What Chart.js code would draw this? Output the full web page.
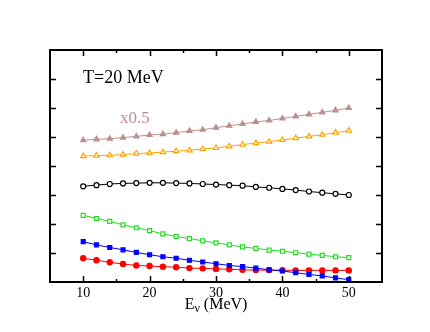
<!DOCTYPE html>
<html>
<head>
<meta charset="utf-8">
<script src="https://cdn.jsdelivr.net/npm/chart.js@4.4.0/dist/chart.umd.min.js"></script>
<style>
  body { margin: 0; background: #fff; }
  #chart { display: block; }
</style>
</head>
<body>
<canvas id="chart" width="430" height="332"></canvas>
<script>
// neutrino energy grid (MeV)
const energies = [10, 12, 14, 16, 18, 20, 22, 24, 26, 28, 30, 32, 34, 36, 38, 40, 42, 44, 46, 48, 50];

// curves, top to bottom (arbitrary units)
const brownVals = [4.89, 4.92, 4.94, 4.98, 5.02, 5.07, 5.10, 5.15, 5.21, 5.25, 5.32, 5.39, 5.45, 5.52, 5.57, 5.64, 5.71, 5.78, 5.85, 5.92, 6.00];
const orangeVals = [4.34, 4.36, 4.37, 4.39, 4.43, 4.45, 4.48, 4.51, 4.54, 4.59, 4.62, 4.68, 4.74, 4.79, 4.84, 4.90, 4.96, 5.02, 5.08, 5.15, 5.22];
const blackVals = [3.30, 3.34, 3.38, 3.40, 3.41, 3.42, 3.42, 3.41, 3.40, 3.38, 3.36, 3.34, 3.32, 3.28, 3.25, 3.21, 3.17, 3.12, 3.08, 3.04, 3.00];
const greenVals = [2.30, 2.19, 2.09, 1.97, 1.87, 1.77, 1.66, 1.57, 1.50, 1.42, 1.35, 1.28, 1.21, 1.16, 1.10, 1.06, 1.01, 0.96, 0.92, 0.87, 0.84];
const blueVals = [1.39, 1.28, 1.19, 1.11, 1.02, 0.94, 0.87, 0.82, 0.75, 0.69, 0.63, 0.57, 0.53, 0.48, 0.42, 0.38, 0.32, 0.26, 0.21, 0.14, 0.08];
const redVals = [0.82, 0.75, 0.68, 0.62, 0.57, 0.55, 0.53, 0.51, 0.48, 0.47, 0.45, 0.44, 0.42, 0.41, 0.41, 0.41, 0.40, 0.40, 0.40, 0.40, 0.40];

const xTicks = [10, 20, 30, 40, 50];
const xMinorTicks = [15, 25, 35, 45];
const yTicks = [1, 2, 3, 4, 5, 6, 7];

const serif = '"Liberation Serif", "Times New Roman", serif';

function series(vals, color, style, filled, radius) {
    return {
        data: energies.map((e, i) => ({ x: e, y: vals[i] })),
        borderColor: color,
        borderWidth: 1,
        pointStyle: style,
        pointRadius: radius,
        pointBorderColor: color,
        pointBorderWidth: 1.2,
        pointBackgroundColor: filled ? color : '#fff',
        tension: 0,
        clip: false
    };
}

// frame with inward ticks, tick labels and the text annotations
const framePlugin = {
    id: 'frame',
    afterDraw(chart) {
        const { ctx, chartArea: a, scales: { x, y } } = chart;
        ctx.save();
        ctx.strokeStyle = '#000';
        ctx.lineWidth = 1.5;
        ctx.beginPath();
        xTicks.forEach(v => {
            const px = Math.round(x.getPixelForValue(v)) + 0.5;
            ctx.moveTo(px, a.bottom); ctx.lineTo(px, a.bottom - 6);
            ctx.moveTo(px, a.top); ctx.lineTo(px, a.top + 6);
        });
        xMinorTicks.forEach(v => {
            const px = Math.round(x.getPixelForValue(v)) + 0.5;
            ctx.moveTo(px, a.bottom); ctx.lineTo(px, a.bottom - 3);
            ctx.moveTo(px, a.top); ctx.lineTo(px, a.top + 3);
        });
        yTicks.forEach(v => {
            const py = Math.round(y.getPixelForValue(v)) + 0.5;
            ctx.moveTo(a.left, py); ctx.lineTo(a.left + 6, py);
            ctx.moveTo(a.right, py); ctx.lineTo(a.right - 6, py);
        });
        ctx.stroke();

        ctx.lineWidth = 2;
        ctx.strokeRect(a.left, a.top, a.right - a.left, a.bottom - a.top);

        ctx.fillStyle = '#000';
        ctx.font = '14px ' + serif;
        ctx.textAlign = 'center';
        ctx.textBaseline = 'alphabetic';
        xTicks.forEach(v => ctx.fillText(String(v), x.getPixelForValue(v), a.bottom + 15));

        // axis title: E with subscript nu
        const big = '16px ' + serif, small = '12px ' + serif;
        ctx.font = big;
        const wE = ctx.measureText('E').width;
        const wRest = ctx.measureText(' (MeV)').width;
        ctx.font = small;
        const wNu = ctx.measureText('ν').width;
        let tx = (a.left + a.right) / 2 - (wE + wNu + wRest) / 2;
        const base = a.bottom + 27;
        ctx.textAlign = 'left';
        ctx.font = big;
        ctx.fillText('E', tx, base);
        tx += wE;
        ctx.font = small;
        ctx.fillText('ν', tx, base + 3);
        tx += wNu;
        ctx.font = big;
        ctx.fillText(' (MeV)', tx, base);

        ctx.font = '18px ' + serif;
        ctx.fillText('T=20 MeV', 83, 83);
        ctx.fillStyle = '#bc8f8f';
        ctx.font = '17px ' + serif;
        ctx.fillText('x0.5', 120, 123);
        ctx.restore();
    }
};

new Chart(document.getElementById('chart'), {
    type: 'line',
    data: {
        datasets: [
            series(brownVals, '#bc8f8f', 'triangle', true, 3),
            series(orangeVals, '#ffa500', 'triangle', false, 3),
            series(blackVals, '#000000', 'circle', false, 2.5),
            series(greenVals, '#22dd22', 'rect', false, 2.8),
            series(blueVals, '#0000ff', 'rect', true, 2.8),
            series(redVals, '#ff0000', 'circle', true, 2.6)
        ]
    },
    options: {
        responsive: false,
        animation: false,
        devicePixelRatio: 1,
        layout: { padding: { left: 50, right: 48, top: 50, bottom: 50 } },
        plugins: { legend: { display: false }, tooltip: { enabled: false } },
        scales: {
            x: { type: 'linear', min: 5, max: 55, display: false },
            y: { min: 0, max: 8, display: false }
        }
    },
    plugins: [framePlugin]
});
</script>
</body>
</html>
